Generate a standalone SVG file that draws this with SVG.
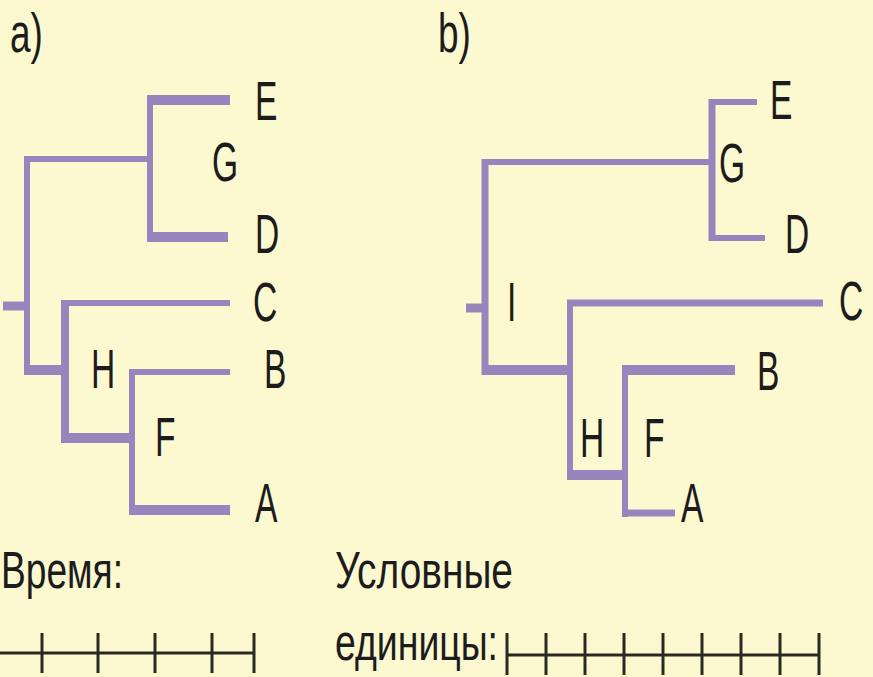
<svg xmlns="http://www.w3.org/2000/svg" width="873" height="677" viewBox="0 0 873 677">
  <style>
    .br { stroke: #9a84bd; fill: none; stroke-linecap: butt; }
    .t6 { stroke-width: 6; }
    .t7 { stroke-width: 7; }
    .t8 { stroke-width: 8; }
    .t9 { stroke-width: 9; }
    .t10 { stroke-width: 10; }
    .lbl { font-family: "Liberation Sans", Arial, sans-serif; font-size: 56px; fill: #1c1c1c; }
    .cap { font-family: "Liberation Sans", Arial, sans-serif; font-size: 52px; fill: #1c1c1c; }
    .ax { stroke: #2a2a22; stroke-width: 3; fill: none; }
  </style>
  <rect width="873" height="677" fill="#fcf8d0"/>

  <text class="lbl" transform="translate(10 52) scale(0.66 1)" font-size="58">a)</text>
  <text class="lbl" transform="translate(438 52) scale(0.66 1)" font-size="58">b)</text>

  <!-- tree a -->
  <g id="connectors-a">
    <line class="br t9" x1="3" y1="306" x2="28" y2="306"/>
    <line class="br t6" x1="27" y1="156" x2="27" y2="375"/>
    <line class="br t6" x1="24" y1="159" x2="151" y2="159"/>
    <line class="br t6" x1="150" y1="95" x2="150" y2="242"/>
    <line class="br t10" x1="147" y1="100" x2="230" y2="100"/>
    <line class="br t10" x1="147" y1="237" x2="228" y2="237"/>
    <line class="br t10" x1="24" y1="370" x2="68" y2="370"/>
    <line class="br t8" x1="65" y1="300" x2="65" y2="443"/>
    <line class="br t6" x1="61" y1="303" x2="230" y2="303"/>
    <line class="br t10" x1="61" y1="438" x2="135" y2="438"/>
    <line class="br t6" x1="132" y1="369" x2="132" y2="515"/>
    <line class="br t6" x1="129" y1="372" x2="230" y2="372"/>
    <line class="br t10" x1="129" y1="510" x2="230" y2="510"/>
  </g>
  <g id="node-a-E"><text class="lbl" transform="translate(255 120) scale(0.6 1)">E</text></g>
  <g id="node-a-G"><text class="lbl" transform="translate(212 181) scale(0.6 1)">G</text></g>
  <g id="node-a-D"><text class="lbl" transform="translate(255 253) scale(0.6 1)">D</text></g>
  <g id="node-a-C"><text class="lbl" transform="translate(253 321) scale(0.6 1)">C</text></g>
  <g id="node-a-B"><text class="lbl" transform="translate(264 388) scale(0.6 1)">B</text></g>
  <g id="node-a-H"><text class="lbl" transform="translate(91 388) scale(0.6 1)">H</text></g>
  <g id="node-a-F"><text class="lbl" transform="translate(155 456) scale(0.6 1)">F</text></g>
  <g id="node-a-A"><text class="lbl" transform="translate(255 522) scale(0.6 1)">A</text></g>

  <!-- tree b -->
  <g id="connectors-b">
    <line class="br t9" x1="466" y1="308" x2="486" y2="308"/>
    <line class="br t7" x1="485" y1="159" x2="485" y2="375"/>
    <line class="br t6" x1="482" y1="162" x2="714" y2="162"/>
    <line class="br t7" x1="712" y1="99" x2="712" y2="241"/>
    <line class="br t6" x1="709" y1="102" x2="757" y2="102"/>
    <line class="br t6" x1="709" y1="238" x2="765" y2="238"/>
    <line class="br t10" x1="482" y1="370" x2="572" y2="370"/>
    <line class="br t6" x1="570" y1="300" x2="570" y2="480"/>
    <line class="br t7" x1="567" y1="303" x2="823" y2="303"/>
    <line class="br t10" x1="567" y1="475" x2="628" y2="475"/>
    <line class="br t6" x1="625" y1="365" x2="625" y2="517"/>
    <line class="br t10" x1="622" y1="370" x2="735" y2="370"/>
    <line class="br t7" x1="622" y1="513" x2="675" y2="513"/>
  </g>
  <g id="node-b-E"><text class="lbl" transform="translate(770 119) scale(0.6 1)">E</text></g>
  <g id="node-b-G"><text class="lbl" transform="translate(719 182) scale(0.6 1)">G</text></g>
  <g id="node-b-D"><text class="lbl" transform="translate(785 253) scale(0.6 1)">D</text></g>
  <g id="node-b-C"><text class="lbl" transform="translate(839 320) scale(0.6 1)">C</text></g>
  <g id="node-b-I"><text class="lbl" transform="translate(507 321) scale(0.6 1)">I</text></g>
  <g id="node-b-B"><text class="lbl" transform="translate(757 390) scale(0.6 1)">B</text></g>
  <g id="node-b-H"><text class="lbl" transform="translate(580 457) scale(0.6 1)">H</text></g>
  <g id="node-b-F"><text class="lbl" transform="translate(644 457) scale(0.6 1)">F</text></g>
  <g id="node-b-A"><text class="lbl" transform="translate(681 522) scale(0.6 1)">A</text></g>

  <!-- time scales -->
  <g id="scale-a">
    <text class="cap" x="1" y="588" textLength="122" lengthAdjust="spacingAndGlyphs">Время:</text>
    <line class="ax" x1="0" y1="653" x2="255" y2="653"/>
    <path class="ax" d="M42 633V673M98 633V673M155 633V673M212 633V673M254 633V673"/>
  </g>
  <g id="scale-b">
    <text class="cap" x="335" y="588" textLength="178" lengthAdjust="spacingAndGlyphs">Условные</text>
    <text class="cap" x="335" y="660" textLength="163" lengthAdjust="spacingAndGlyphs">единицы:</text>
    <line class="ax" x1="507" y1="655" x2="820" y2="655"/>
    <path class="ax" d="M507 633V675M546 633V675M585 633V675M624 633V675M663 633V675M702 633V675M741 633V675M780 633V675M819 633V675"/>
  </g>
</svg>
